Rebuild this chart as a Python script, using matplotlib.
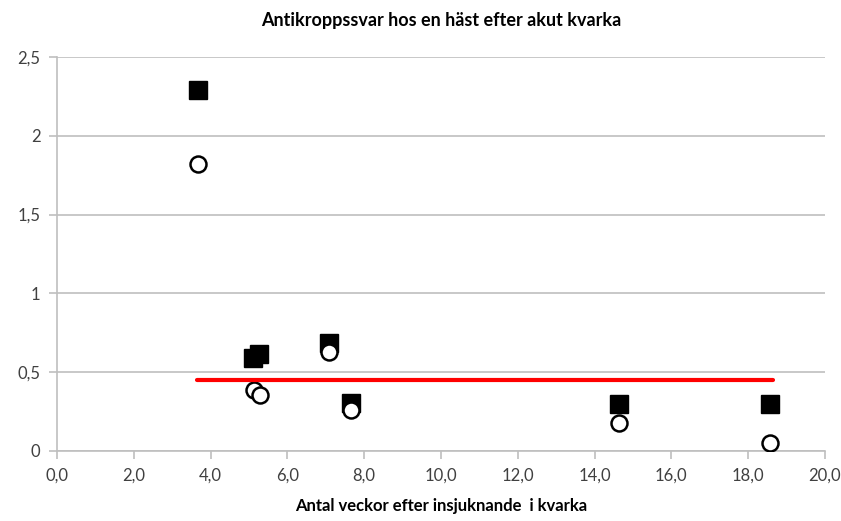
import matplotlib.pyplot as plt

# data
weeks = [3.67, 5.10, 5.26, 7.08, 7.66, 14.64, 18.57]
series_sq = [2.29, 0.59, 0.615, 0.685, 0.305, 0.30, 0.30]
weeks_circ = [3.67, 5.13, 5.29, 7.08, 7.66, 14.64, 18.57]
series_circ = [1.82, 0.39, 0.355, 0.63, 0.26, 0.18, 0.05]
cutoff_x = [3.65, 18.65]
cutoff_y = [0.45, 0.45]

x_ticks = [0, 2, 4, 6, 8, 10, 12, 14, 16, 18, 20]
y_ticks = [0, 0.5, 1, 1.5, 2, 2.5]
y_labels = ['0', '0,5', '1', '1,5', '2', '2,5']


def plot_chart():
    plt.rcParams['font.family'] = ['Lato', 'DejaVu Sans']

    fig = plt.figure(figsize=(8.41, 5.21), dpi=100)
    ax = fig.add_axes([0.0678, 0.1344, 0.913, 0.7562])

    ax.plot(weeks, series_sq, linestyle='none', marker='s', markersize=12.5,
            color='black', zorder=3)
    ax.plot(weeks_circ, series_circ, linestyle='none', marker='o', markersize=11.5,
            markerfacecolor='white', markeredgecolor='black', markeredgewidth=1.8, zorder=4)
    ax.plot(cutoff_x, cutoff_y, color='#ff0000', linewidth=3, zorder=5,
            solid_capstyle='round')

    ax.set_xlim(0, 20)
    ax.set_ylim(0, 2.5)
    ax.set_xticks(x_ticks)
    ax.set_xticklabels([f'{v:.1f}'.replace('.', ',') for v in x_ticks])
    ax.set_yticks(y_ticks)
    ax.set_yticklabels(y_labels)

    ax.grid(axis='y', color='#bfbfbf', linewidth=1.2)
    ax.set_axisbelow(True)
    for s in ['top', 'right']:
        ax.spines[s].set_visible(False)
    for s in ['left', 'bottom']:
        ax.spines[s].set_color('#bfbfbf')
        ax.spines[s].set_linewidth(1.2)
    ax.tick_params(axis='x', direction='out', length=6, color='#bfbfbf', width=1.2,
                   labelsize=12, labelcolor='#404040', pad=6)
    ax.tick_params(axis='y', direction='out', length=6, color='#bfbfbf', width=1.2,
                   labelsize=12, labelcolor='#404040', pad=6)

    ax.set_xlabel('Antal veckor efter insjuknande  i kvarka', fontsize=12,
                  fontweight='bold', labelpad=10)
    ax.set_title('Antikroppssvar hos en häst efter akut kvarka', fontsize=13,
                 fontweight='bold', pad=22)

    fig.savefig('out.png', dpi=100)


if __name__ == "__main__":
    plot_chart()
